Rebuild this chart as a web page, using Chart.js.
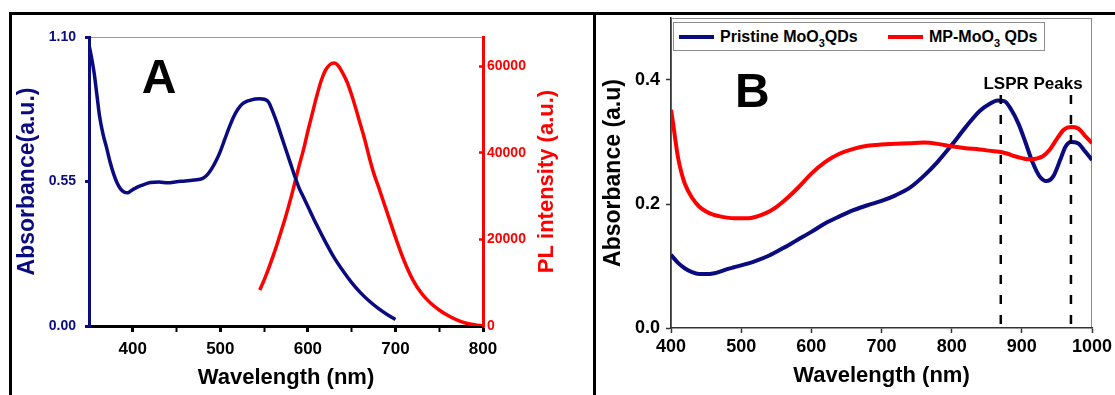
<!DOCTYPE html>
<html>
<head>
<meta charset="utf-8">
<title>MoO3 QDs - absorbance / PL</title>
<script src="https://cdn.jsdelivr.net/npm/chart.js@4.4.1/dist/chart.umd.min.js"></script>
<style>
  html, body { margin:0; padding:0; background:#fff; overflow:hidden; }
  body { width:1115px; height:395px; position:relative; font-family:"Liberation Sans", Arial, sans-serif; }
  .rule { position:absolute; background:#000; }
  canvas { position:absolute; }
  #legendB { position:absolute; left:673px; top:22px; width:370px; height:27px; border:1px solid #8c8c8c; background:#fff; font-weight:bold; font-size:16px; }
  #legendB .item { position:absolute; top:0; height:27px; display:flex; align-items:center; white-space:nowrap; }
  #legendB .swatch { display:inline-block; width:35px; height:4px; margin-right:6px; }
  #legendB sub { font-size:11px; line-height:0; vertical-align:-5px; }
</style>
</head>
<body>
<!-- panel frame -->
<div class="rule" style="left:9px;top:12px;width:1106px;height:3px"></div>
<div class="rule" style="left:9px;top:12px;width:3px;height:383px"></div>
<div class="rule" style="left:593px;top:12px;width:3px;height:383px"></div>

<canvas id="chartA" width="580" height="380" style="left:12px;top:15px"></canvas>
<canvas id="chartB" width="519" height="380" style="left:596px;top:15px"></canvas>
<div id="legendB"></div>

<script>
/* ===== Panel A : absorbance (left) + PL (right) ===== */
const absWlA = [350,353,356,359,362,366,370,374,378,382,386,390,394,398,402,410,420,430,440,450,460,470,480,485,490,495,500,505,510,515,520,525,530,535,540,545,550,555,560,565,570,575,580,585,590,595,600,610,620,630,640,650,660,670,680,690,700];
const absA   = [1.07,1.02,0.96,0.88,0.80,0.73,0.68,0.625,0.58,0.545,0.522,0.51,0.507,0.515,0.523,0.535,0.546,0.548,0.545,0.549,0.552,0.556,0.562,0.575,0.598,0.628,0.665,0.71,0.755,0.795,0.825,0.845,0.855,0.86,0.864,0.865,0.863,0.853,0.815,0.77,0.72,0.67,0.62,0.57,0.525,0.49,0.455,0.385,0.32,0.26,0.21,0.165,0.127,0.095,0.068,0.045,0.025];

const plWlA = [545,550,555,560,565,570,575,580,585,590,595,600,605,610,615,620,625,630,635,640,645,650,655,660,665,670,675,680,690,700,710,720,730,740,750,760,770,780,790,800];
const plA   = [8300,10600,13200,16000,19000,22200,25500,29100,33000,37000,40700,45000,49000,53000,56500,59000,60300,60700,60000,58300,56200,53300,50000,46500,43000,39000,35400,32500,26500,20500,15000,10600,7500,5300,3700,2400,1400,700,300,0];

const xTicksA  = [400, 500, 600, 700, 800];    // labelled
const xMinorA  = [450, 550, 650, 750];         // unlabelled
const yTicksA  = [0, 0.55, 1.10];
const y2TicksA = [0, 20000, 40000, 60000];

/* ===== Panel B : absorbance of the two samples ===== */
const wlPristine  = [400,410,420,430,440,450,460,470,480,490,500,520,540,560,580,600,620,640,660,680,700,720,740,760,780,800,820,840,855,865,875,885,895,905,915,925,935,945,955,962,970,980,990,1000];
const absPristine = [0.118,0.105,0.096,0.09,0.087,0.087,0.088,0.091,0.095,0.098,0.101,0.108,0.117,0.129,0.142,0.155,0.169,0.18,0.19,0.198,0.205,0.214,0.226,0.245,0.268,0.295,0.324,0.35,0.362,0.367,0.366,0.352,0.33,0.30,0.268,0.245,0.237,0.245,0.272,0.292,0.30,0.298,0.285,0.271];

const wlMP  = [400,403,406,410,415,420,430,440,450,460,470,480,490,500,510,520,530,540,550,560,570,580,590,600,620,640,660,680,700,720,740,760,780,800,820,840,860,870,880,890,900,910,920,930,940,950,960,970,980,990,1000];
const absMP = [0.352,0.33,0.305,0.275,0.25,0.232,0.21,0.196,0.188,0.183,0.18,0.178,0.177,0.177,0.177,0.179,0.183,0.188,0.195,0.204,0.214,0.225,0.237,0.249,0.268,0.281,0.289,0.294,0.296,0.297,0.298,0.299,0.297,0.293,0.29,0.288,0.285,0.284,0.281,0.277,0.274,0.272,0.273,0.277,0.288,0.305,0.32,0.324,0.322,0.31,0.298];

const lsprPeaks = [870, 970];
const lsprTop   = 0.376;
const xTicksB   = [400, 500, 600, 700, 800, 900, 1000];
const yTicksB   = [0, 0.2, 0.4];
const namesB    = ['Pristine MoO₃QDs', 'MP-MoO₃ QDs'];

/* ---------- shared bits ---------- */
const NAVY = '#0b0b80', RED = '#ff0000';
const FONT = '"Liberation Sans", Arial, sans-serif';
Chart.defaults.font.family = FONT;
Chart.defaults.font.weight = 'bold';
Chart.defaults.color = '#000';

const pts      = (xs, ys) => xs.map((x, i) => ({x, y: ys[i]}));
const fixTicks = vals => s => { s.ticks = vals.map(v => ({value: v})); };
const fixW     = w => s => { s.width = w; s.paddingTop = 0; s.paddingBottom = 0; };
const fixH     = h => s => { s.height = h; s.paddingLeft = 0; s.paddingRight = 0; };

// grey plot frame + free text placed through the scales
const notes = {
  id: 'notes',
  beforeDraw(chart, args, o) {
    const {ctx, chartArea: a} = chart;
    ctx.save();
    ctx.strokeStyle = o.frame; ctx.lineWidth = 1;
    ctx.strokeRect(a.left + .5, a.top + .5, a.right - a.left - 1, a.bottom - a.top - 1);
    ctx.restore();
  },
  afterDraw(chart, args, o) {
    const {ctx, scales, chartArea: a} = chart;
    ctx.save();
    ctx.textAlign = 'center';
    for (const t of o.texts) {
      ctx.font = `bold ${t.size}px ${FONT}`;
      ctx.fillStyle = t.color || '#000';
      ctx.textBaseline = 'alphabetic';
      ctx.fillText(t.text, scales.x.getPixelForValue(t.x), scales.y.getPixelForValue(t.y));
    }
    if (o.side) {   // right-hand title, read bottom to top
      const s = o.side;
      ctx.translate(scales[s.axis].left + s.offset, (a.top + a.bottom) / 2);
      ctx.rotate(-Math.PI / 2);
      ctx.font = `bold ${s.size}px ${FONT}`;
      ctx.fillStyle = s.color;
      ctx.textBaseline = 'middle';
      ctx.fillText(s.text, 0, 0);
    }
    ctx.restore();
  }
};

/* ---------- chart A ---------- */
new Chart(document.getElementById('chartA'), {
  type: 'line',
  data: { datasets: [
    { label: 'Absorbance', data: pts(absWlA, absA), borderColor: NAVY, borderWidth: 3.5, yAxisID: 'y' },
    { label: 'PL', data: pts(plWlA, plA), borderColor: RED, borderWidth: 3.5, yAxisID: 'y2' }
  ]},
  options: {
    responsive: false, animation: false,
    layout: { padding: { top: 22, left: 0, right: 0, bottom: 0 } },
    elements: { point: { radius: 0 }, line: { cubicInterpolationMode: 'monotone' } },
    plugins: {
      legend: { display: false }, tooltip: { enabled: false },
      notes: {
        frame: '#9a9a9a',
        texts: [ { text: 'A', x: 430, y: 0.886, size: 48 } ],
        side: { axis: 'y2', text: 'PL intensity (a.u.)', color: RED, size: 22, offset: 64 }
      }
    },
    scales: {
      x: {
        type: 'linear', min: 350, max: 800,
        afterBuildTicks: fixTicks([...xTicksA, ...xMinorA].sort((a, b) => a - b)),
        afterFit: fixH(69),
        border: { color: '#000', width: 3 },
        grid: { drawOnChartArea: false, tickLength: 6, tickColor: '#000',
                tickWidth: c => xTicksA.includes(c.tick && c.tick.value) ? 3 : 2 },
        ticks: { autoSkip: false, maxRotation: 0, padding: 7, color: '#000',
                 font: { size: 17, weight: 'bold' }, callback: v => xTicksA.includes(v) ? String(v) : '' },
        title: { display: true, text: 'Wavelength (nm)', color: '#000',
                 font: { size: 22, weight: 'bold' }, padding: { top: 0, bottom: 4 } }
      },
      y: {
        position: 'left', min: 0, max: 1.10,
        afterBuildTicks: fixTicks(yTicksA), afterFit: fixW(77),
        border: { color: NAVY, width: 3 },
        grid: { drawOnChartArea: false, tickLength: 4, tickColor: NAVY, tickWidth: 3 },
        ticks: { padding: 9, color: NAVY, font: { size: 14, weight: 'bold' }, callback: v => v.toFixed(2) },
        title: { display: true, text: 'Absorbance(a.u.)', color: NAVY,
                 font: { size: 23, weight: 'bold' }, padding: { top: 2, bottom: 0 } }
      },
      y2: {
        position: 'right', min: 0, max: 66700,
        afterBuildTicks: fixTicks(y2TicksA), afterFit: fixW(109),
        border: { color: RED, width: 3 },
        grid: { drawOnChartArea: false, tickLength: -4, tickColor: RED, tickWidth: 2.5 },
        ticks: { padding: 8, color: RED, font: { size: 14, weight: 'bold' }, callback: v => String(v) }
      }
    }
  },
  plugins: [notes]
});

/* ---------- chart B ---------- */
const dashSets = lsprPeaks.map(p => ({
  label: 'LSPR ' + p, data: [{x: p, y: lsprTop}, {x: p, y: 0}],
  borderColor: '#000', borderWidth: 2.5, borderDash: [9, 11], tension: 0, cubicInterpolationMode: 'default'
}));

new Chart(document.getElementById('chartB'), {
  type: 'line',
  data: { datasets: [
    ...dashSets,
    { label: namesB[1], data: pts(wlMP, absMP), borderColor: RED, borderWidth: 4 },
    { label: namesB[0], data: pts(wlPristine, absPristine), borderColor: NAVY, borderWidth: 4 }
  ]},
  options: {
    responsive: false, animation: false,
    layout: { padding: { top: 3, left: 0, right: 23, bottom: 0 } },
    elements: { point: { radius: 0 }, line: { cubicInterpolationMode: 'monotone' } },
    plugins: {
      legend: { display: false }, tooltip: { enabled: false },
      notes: {
        frame: '#8a8a8a',
        texts: [
          { text: 'B', x: 516, y: 0.356, size: 48 },
          { text: 'LSPR Peaks', x: 916, y: 0.3855, size: 17 }
        ]
      }
    },
    scales: {
      x: {
        type: 'linear', min: 400, max: 1000,
        afterBuildTicks: fixTicks(xTicksB), afterFit: fixH(67),
        border: { color: '#333', width: 1.5 },
        grid: { drawOnChartArea: false, tickLength: 5, tickColor: '#333', tickWidth: 1.5 },
        ticks: { autoSkip: false, maxRotation: 0, padding: 3, color: '#000',
                 font: { size: 18, weight: 'bold' }, callback: v => String(v) },
        title: { display: true, text: 'Wavelength (nm)', color: '#000',
                 font: { size: 22, weight: 'bold' }, padding: { top: 0, bottom: 6 } }
      },
      y: {
        min: 0, max: 0.5,
        afterBuildTicks: fixTicks(yTicksB), afterFit: fixW(75),
        border: { color: '#333', width: 1.5 },
        grid: { drawOnChartArea: false, tickLength: 5, tickColor: '#333', tickWidth: 1.5 },
        ticks: { padding: 6, color: '#000', font: { size: 18, weight: 'bold' }, callback: v => v.toFixed(1) },
        title: { display: true, text: 'Absorbance (a.u)', color: '#000',
                 font: { size: 23, weight: 'bold' }, padding: { top: 4, bottom: 0 } }
      }
    }
  },
  plugins: [notes]
});

/* ---------- HTML legend for B (subscript 3) ---------- */
const colorsB = [NAVY, RED];
const legLeft = [5, 214];
const leg = document.getElementById('legendB');
namesB.forEach((n, i) => {
  const it = document.createElement('div');
  it.className = 'item';
  it.style.left = legLeft[i] + 'px';
  it.innerHTML = `<span class="swatch" style="background:${colorsB[i]}"></span><span>${n.replace('₃', '<sub>3</sub>')}</span>`;
  leg.appendChild(it);
});
</script>
</body>
</html>
